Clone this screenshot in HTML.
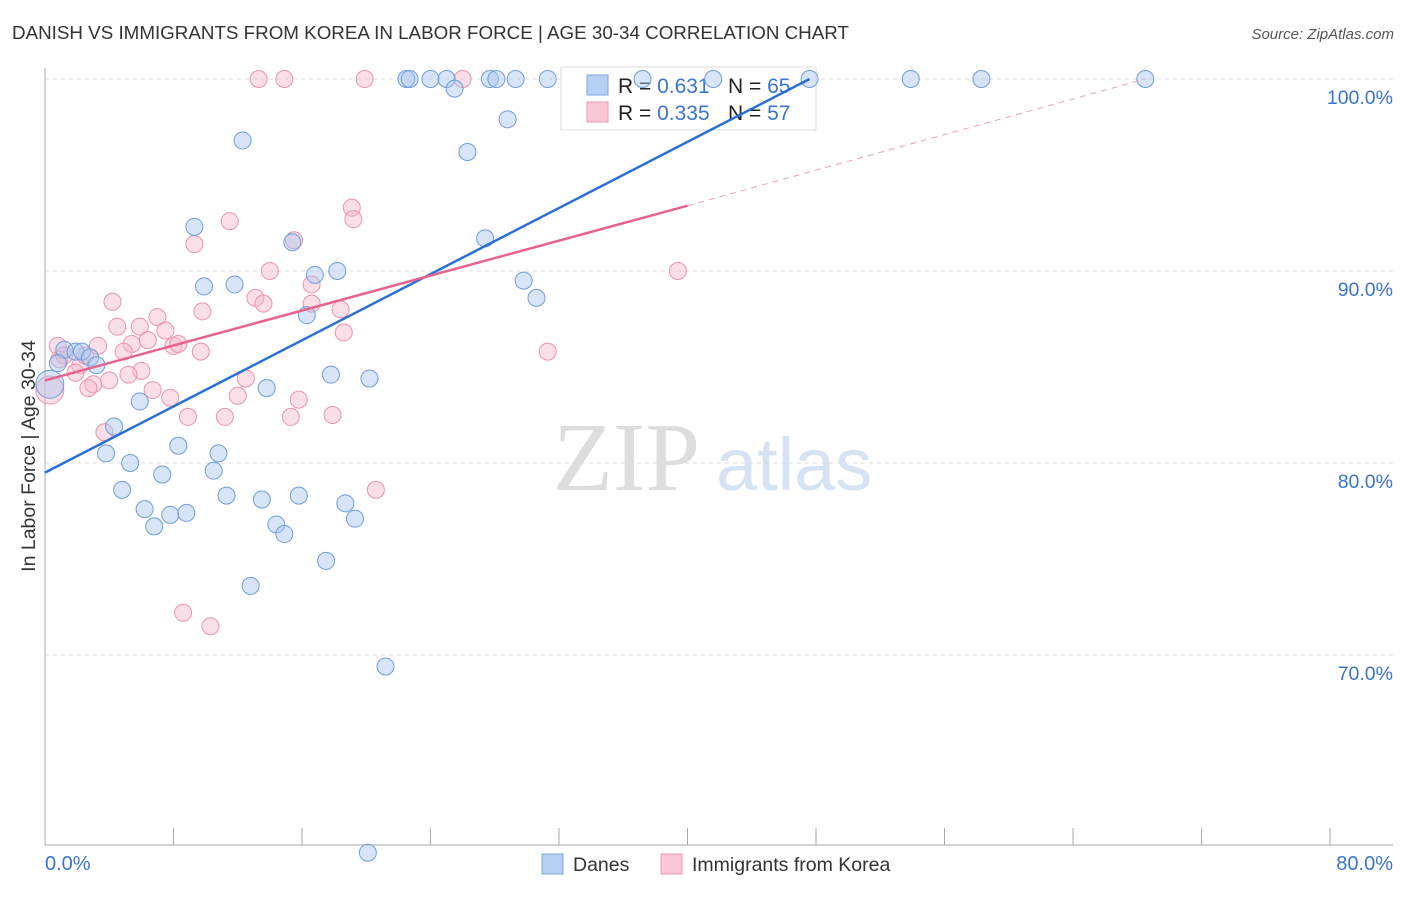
<!DOCTYPE html>
<html><head><meta charset="utf-8"><style>
body{margin:0;background:#fff;font-family:"Liberation Sans",sans-serif}
svg text{font-family:"Liberation Sans",sans-serif}
</style></head><body>
<svg id="c" width="1406" height="892" viewBox="0 0 1406 892">
<text x="12" y="39" font-size="18.8" fill="#333">DANISH VS IMMIGRANTS FROM KOREA IN LABOR FORCE | AGE 30-34 CORRELATION CHART</text>
<text x="1394" y="39" font-size="15" fill="#555" font-style="italic" text-anchor="end">Source: ZipAtlas.com</text>
<text x="553" y="490" font-size="98" fill="#ddd" style="font-family:'Liberation Serif',serif">ZIP</text>
<text x="716" y="490" font-size="74" fill="#d5e3f3">atlas</text>
<g id="grid"></g>
<g>
<rect x="561" y="67" width="255" height="63" fill="#fff" stroke="#ddd"/>
<rect x="587" y="75" width="21" height="20" fill="#b7d0f2" stroke="#7ea6e0"/>
<rect x="587" y="102" width="21" height="20" fill="#f9c8d6" stroke="#ef9ab3"/>
<text x="618" y="93" font-size="21" fill="#222">R = <tspan fill="#3a75d0">0.631</tspan></text>
<text x="728" y="93" font-size="21" fill="#222">N = <tspan fill="#3a75d0">65</tspan></text>
<text x="618" y="120" font-size="21" fill="#222">R = <tspan fill="#3a75d0">0.335</tspan></text>
<text x="728" y="120" font-size="21" fill="#222">N = <tspan fill="#3a75d0">57</tspan></text>
</g>
<g id="pts"></g><g id="lines"></g>
<text x="35" y="456" font-size="19.5" fill="#333" transform="rotate(-90 35 456)" text-anchor="middle">In Labor Force | Age 30-34</text>
<text x="45" y="870" font-size="20" fill="#3a75d0">0.0%</text>
<text x="1393" y="870" font-size="20" fill="#3a75d0" text-anchor="end">80.0%</text>
<g>
<rect x="542" y="854" width="21" height="20" fill="#b7d0f2" stroke="#7ea6e0"/>
<text x="573" y="871" font-size="19.5" fill="#333">Danes</text>
<rect x="661" y="854" width="21" height="20" fill="#f9c8d6" stroke="#ef9ab3"/>
<text x="692" y="871" font-size="19.5" fill="#333">Immigrants from Korea</text>
</g>
</svg>
<script>
const yTicks=[100,90,80,70];
const yTickLabels=["100.0%","90.0%","80.0%","70.0%"];
const xTicks=[0,8,16,24,32,40,48,56,64,72,80];
const danesX=[22.5,22.7,24,25,27.7,28.1,29.3,31.3,37.2,41.6,47.6,53.9,58.3,68.5,25.5,28.8,12.3,26.3,9.3,27.4,15.4,18.2,16.8,29.8,9.9,11.8,30.6,16.3,1.2,1.9,2.3,2.8,3.2,0.8,0.3,17.8,20.2,13.8,5.9,4.3,8.3,3.8,10.8,5.3,7.3,10.5,4.8,11.3,13.5,15.8,18.7,6.2,7.8,8.8,6.8,19.3,14.4,14.9,17.5,12.8,21.2,20.1];
const danesY=[100,100,100,100,100,100,100,100,100,100,100,100,100,100,99.5,97.9,96.8,96.2,92.3,91.7,91.5,90,89.8,89.5,89.2,89.3,88.6,87.7,85.9,85.8,85.8,85.5,85.1,85.2,84.1,84.6,84.4,83.9,83.2,81.9,80.9,80.5,80.5,80,79.4,79.6,78.6,78.3,78.1,78.3,77.9,77.6,77.3,77.4,76.7,77.1,76.8,76.3,74.9,73.6,69.4,59.7];
const koreaX=[13.3,14.9,19.9,26,11.5,9.3,19.1,19.2,15.5,14,39.4,4.2,9.8,13.1,13.6,16.6,16.6,18.4,7,4.5,5.9,7.5,6.4,18.6,8,8.3,9.7,5.4,3.3,0.8,4.9,0.9,1.2,2.2,1.9,6.0,5.2,4.0,3.0,2.7,6.7,7.8,12.5,12.0,15.8,8.9,11.2,15.3,17.9,31.3,3.7,20.6,8.6,10.3,2.5,0.3];
const koreaY=[100,100,100,100,92.6,91.4,93.3,92.7,91.6,90,90,88.4,87.9,88.6,88.3,89.3,88.3,88,87.6,87.1,87.1,86.9,86.4,86.8,86.1,86.2,85.8,86.2,86.1,86.1,85.8,85.4,85.6,85.1,84.7,84.8,84.6,84.3,84.1,83.9,83.8,83.4,84.4,83.5,83.3,82.4,82.4,82.4,82.5,85.8,81.6,78.6,72.2,71.5,85.6,83.8];
const blueFit=[[0,79.5],[47.6,100]];
const pinkFit=[[0,84.3],[40,93.4]];
const pinkExt=[[40,93.4],[68.5,100]];
const X=v=>45+v*(1285/80), Y=v=>79+(100-v)*19.2;
const NS="http://www.w3.org/2000/svg";
function mk(t,a,p){const e=document.createElementNS(NS,t);for(const k in a)e.setAttribute(k,a[k]);p.appendChild(e);return e;}
const grid=document.getElementById('grid');
yTicks.forEach((t,i)=>{
 const l=mk('line',{x1:45,x2:1393,y1:Y(t),y2:Y(t),stroke:'#ddd','stroke-dasharray':'4,4'},grid);
 
 
 const tx=mk('text',{x:1393,y:Y(t)+25,'font-size':19.5,fill:'#3a75d0','text-anchor':'end'},grid);
 tx.textContent=yTickLabels[i];
 
 
});
const ax=mk('line',{x1:45,x2:45,y1:68,y2:845,stroke:'#aaa'},grid);


const bx=mk('line',{x1:45,x2:1393,y1:845,y2:845,stroke:'#aaa'},grid);


xTicks.forEach(t=>{const l=mk('line',{x1:X(t),x2:X(t),y1:828,y2:845,stroke:'#aaa'},grid);
 
 });
const pts=document.getElementById('pts');
function dots(xs,ys,fill,stroke,name){xs.forEach((x,i)=>{
 const big=(x<0.5);
 const c=mk('circle',{cx:X(x),cy:Y(ys[i]),r:big?14:8.5,fill:fill,'fill-opacity':0.45,stroke:stroke,'stroke-width':1},pts);
 
 });}
dots(koreaX,koreaY,'#f7b8cb','#ec93ae','korea-point');
dots(danesX,danesY,'#a9c6ef','#6f9ddc','danes-point');
const lines=document.getElementById('lines');
function ln(f,col,dash,name,w){const l=mk('line',{x1:X(f[0][0]),y1:Y(f[0][1]),x2:X(f[1][0]),y2:Y(f[1][1]),stroke:col,'stroke-width':w},lines);
 if(dash)l.setAttribute('stroke-dasharray',dash);
 
 }
ln(blueFit,'#2a6fd6',null,'danes-trend-line',2.5);
ln(pinkFit,'#e8628f',null,'korea-trend-line',2.5);
ln(pinkExt,'#e8a0b8','6,5','korea-trend-extension',1);
</script>
</body></html>
